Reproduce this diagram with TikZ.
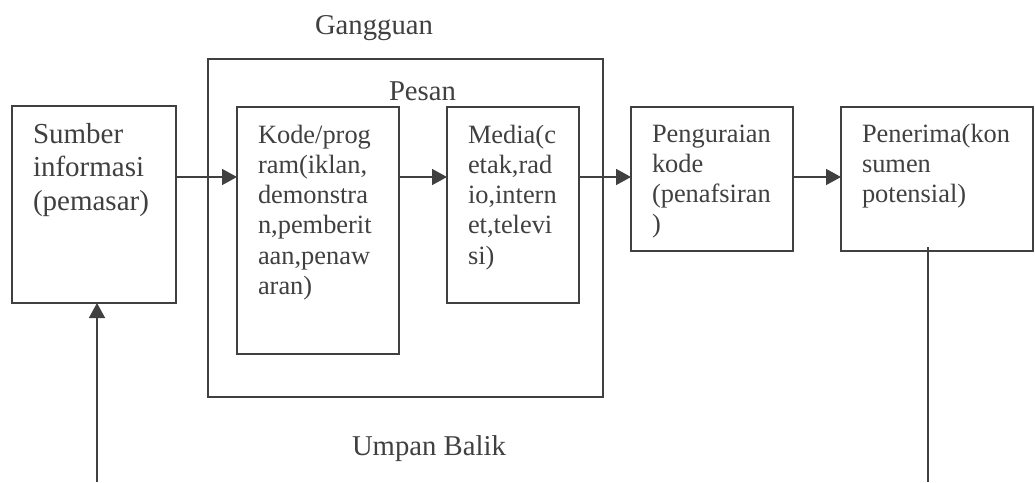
\documentclass[tikz,border=0pt]{standalone}
\usepackage{fontspec}
\setmainfont{Liberation Serif}
\usetikzlibrary{arrows.meta,fit}
\definecolor{ink}{RGB}{64,64,64}
\newcommand\mytxt[3]{\parbox[t]{300pt}{\fontsize{#1}{#2}\selectfont\raggedright #3}}
\begin{document}
\begin{tikzpicture}[x=1pt,y=-1pt,
  box/.style={draw=ink, line width=1.5pt, inner sep=0pt, outer sep=0pt},
  lbl/.style={anchor=base west, inner sep=0pt, outer sep=0pt, text=ink},
  conn/.style={draw=ink, line width=1.5pt},
  arr/.style={conn, -{Triangle[length=15pt,width=16pt]}}]
\useasboundingbox[fill=white] (0,0) rectangle (1035,482);

% boxes
\node[box, fit={(12,106) (176,303)}] (sumber) {};
\node[box, fit={(208,59) (603,397)}] (frame) {};
\node[box, fit={(237,107) (399,354)}] (kode) {};
\node[box, fit={(447,107) (579,303)}] (media) {};
\node[box, fit={(631,107) (793,251)}] (urai) {};
\node[box, fit={(841,107) (1033,251)}] (terima) {};

% labels
\node[lbl] (tg) at (315,34) {\fontsize{28.7}{33}\selectfont Gangguan};
\node[lbl] (tp) at (389,100) {\fontsize{28.7}{33}\selectfont Pesan};
\node[lbl] (tu) at (352,455) {\fontsize{28.7}{33}\selectfont Umpan Balik};

\node[lbl] (ts) at (33,143) {\mytxt{29}{33.5}{Sumber\\informasi\\(pemasar)}};
\node[lbl] (tk) at (258,143) {\mytxt{26.4}{30.3}{Kode/prog\\ram(iklan,\\demonstra\\n,pemberit\\aan,penaw\\aran)}};
\node[lbl] (tm) at (468,143) {\mytxt{26.4}{30.3}{Media(c\\etak,rad\\io,intern\\et,televi\\si)}};
\node[lbl] (tr) at (652,142) {\mytxt{26.4}{30.3}{Penguraian\\kode\\(penafsiran\\)}};
\node[lbl] (tt) at (862,142) {\mytxt{26.4}{30.3}{Penerima(kon\\sumen\\potensial)}};

% connectors
\coordinate (ay) at (0,177);
\coordinate (fbL) at (97,482);
\coordinate (fbR) at (928,482);
\draw[arr] (sumber.east |- ay) -- (kode.west |- ay);
\draw[arr] (kode.east |- ay) -- (media.west |- ay);
\draw[arr] (media.east |- ay) -- (urai.west |- ay);
\draw[arr] (urai.east |- ay) -- (terima.west |- ay);
\draw[conn] ([yshift=4pt]terima.south -| fbR) -- (fbR);
\draw[arr] (fbL) -- (fbL |- sumber.south);
\end{tikzpicture}
\end{document}
